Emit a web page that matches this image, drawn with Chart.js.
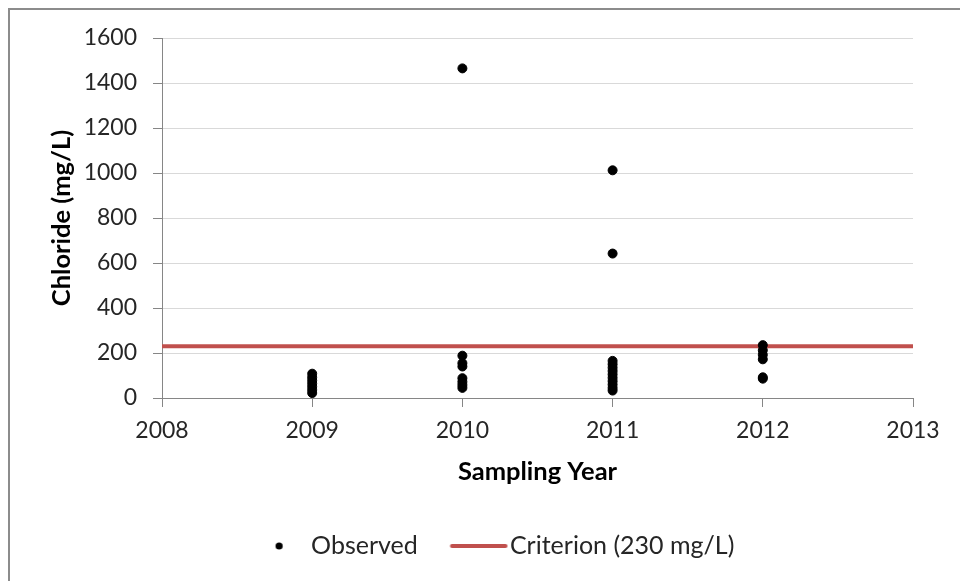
<!DOCTYPE html>
<html>
<head>
<meta charset="utf-8">
<script src="https://cdn.jsdelivr.net/npm/chart.js@4.4.1/dist/chart.umd.min.js"></script>
<style>
	html, body { margin: 0; padding: 0; background: #fff; overflow: hidden; }
	#wrap { position: relative; width: 960px; height: 581px; }
	#frame { position: absolute; left: 8px; top: 8px; width: 1000px; height: 1000px; border: 2px solid #8c8c8c; pointer-events: none; }
</style>
</head>
<body>
<div id="wrap">
	<canvas id="myChart" width="960" height="581"></canvas>
	<div id="frame"></div>
</div>
<script>
// values (mg/L), one list per sampling year
var years = [2009, 2010, 2011, 2012];
var obs2009 = [108, 92, 78, 64, 50, 36, 22];
var obs2010 = [1465, 188, 155, 140, 88, 72, 58, 45];
var obs2011 = [1012, 642, 165, 150, 135, 120, 105, 90, 75, 60, 45, 33];
var obs2012 = [235, 212, 192, 172, 92, 86];
var criterion = 230;
var xRange = [2008, 2013];
var yTicks = [0, 200, 400, 600, 800, 1000, 1200, 1400, 1600];

var tickFont = { family: 'Lato', size: 23 };
var legendFont = { family: 'Lato', size: 25 };
var titleFont = { family: 'Lato', size: 25.5, weight: 'bold' };
var L = 80;

// scatter points {x: year, y: value}
var observed = [];
var lists = [obs2009, obs2010, obs2011, obs2012];
for (var i in years)
{
	for (var j in lists[i])
	{
		observed.push({ x: years[i], y: lists[i][j] });
	}
}
var criterionLine = [{ x: xRange[0], y: criterion }, { x: xRange[1], y: criterion }];

// little legend pictures
function dotIcon()
{
	var c = document.createElement('canvas');
	c.width = 40; c.height = 12;
	var g = c.getContext('2d');
	g.fillStyle = '#000';
	g.beginPath();
	g.arc(20.5, 6, 3.6, 0, Math.PI * 2);
	g.fill();
	return c;
}
function lineIcon()
{
	var c = document.createElement('canvas');
	c.width = 62; c.height = 12;
	var g = c.getContext('2d');
	g.strokeStyle = '#c0504d';
	g.lineWidth = 4;
	g.lineCap = 'round';
	g.beginPath();
	g.moveTo(5.5, 6);
	g.lineTo(59, 6);
	g.stroke();
	return c;
}
var icons = [dotIcon(), lineIcon()];

var ctx = document.getElementById("myChart");
var myChart = new Chart(ctx, {
	type: 'scatter',
	data: {
		datasets: [
		{
			label: 'Observed',
			data: observed,
			backgroundColor: '#000',
			borderColor: '#000',
			pointRadius: 4.5,
			pointHoverRadius: 4.5
		},
		{
			type: 'line',
			label: 'Criterion (230 mg/L)',
			data: criterionLine,
			borderColor: '#c0504d',
			borderWidth: 4,
			pointRadius: 0,
			fill: false
		}]
	},
	options: {
		responsive: false,
		animation: false,
		layout: { padding: { left: L, right: 47, top: 38, bottom: 12.5 } },
		plugins: {
			tooltip: { enabled: false },
			legend: {
				position: 'bottom',
				labels: {
					usePointStyle: true,
					pointStyleWidth: 40,
					padding: 39.7,
					color: '#262626',
					font: legendFont,
					generateLabels: function (chart)
					{
						return chart.data.datasets.map(function (ds, k)
						{
							return { text: ds.label, pointStyle: icons[k], datasetIndex: k, fontColor: '#262626', lineWidth: 0, strokeStyle: 'transparent', fillStyle: 'transparent' };
						});
					}
				}
			}
		},
		scales: {
			x: {
				type: 'linear',
				min: xRange[0],
				max: xRange[1],
				afterFit: function (scale) { scale.height = 95.8; },
				ticks: { stepSize: 1, padding: 10, color: '#262626', font: tickFont, callback: function (v) { return String(v); } },
				grid: { drawOnChartArea: false, tickLength: 9, tickColor: '#868686' },
				border: { color: '#868686' },
				title: { display: true, text: 'Sampling Year', color: '#000', font: titleFont, padding: { top: 0, bottom: 6.5 } }
			},
			y: {
				min: 0,
				max: 1600,
				afterFit: function (scale) { scale.width = 162 - L; },
				afterBuildTicks: function (scale) { scale.ticks = yTicks.map(function (v) { return { value: v }; }); },
				ticks: { padding: 16, color: '#262626', font: tickFont, callback: function (v) { return String(v); } },
				grid: { color: '#d9d9d9', tickLength: 9, tickColor: '#868686' },
				border: { color: '#868686' },
				title: { display: true, text: 'Chloride (mg/L)', color: '#000', font: titleFont, padding: { top: 62 - L - 15.3, bottom: 0 } }
			}
		}
	}
});
</script>
</body>
</html>
